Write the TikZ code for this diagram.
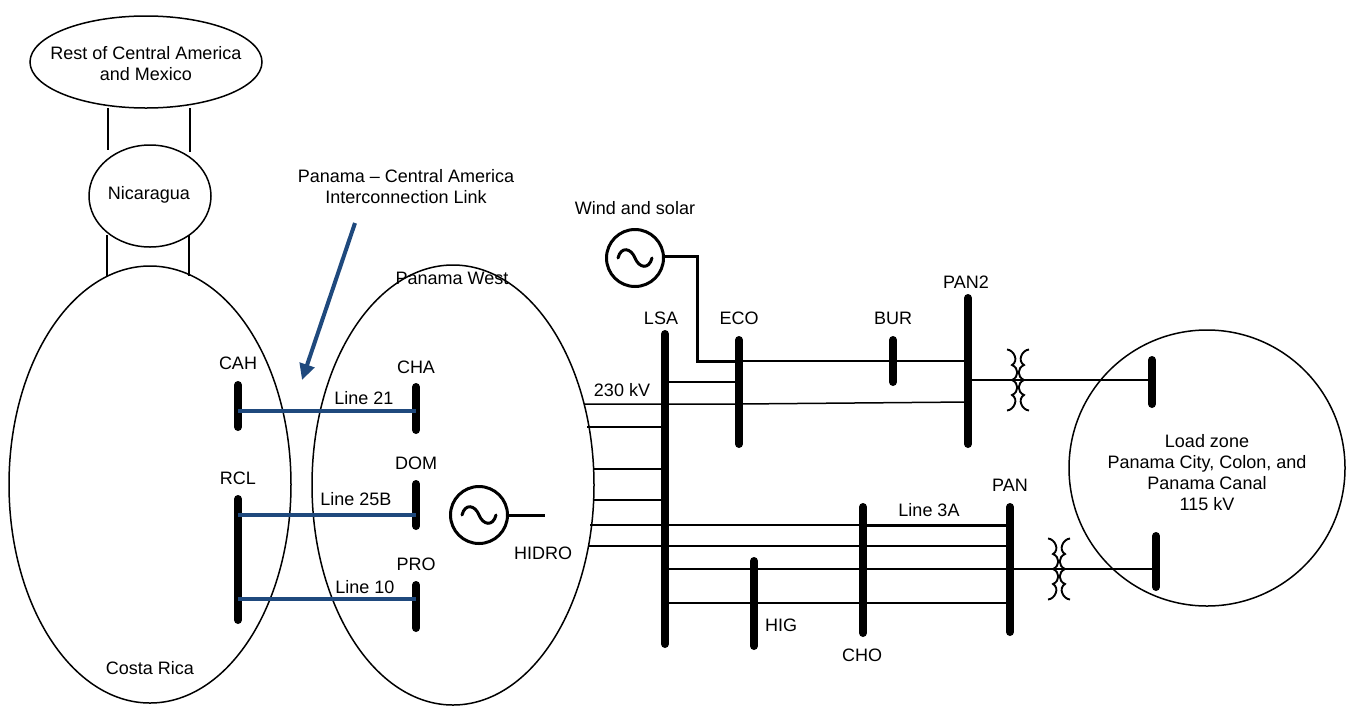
\documentclass[tikz,border=0pt]{standalone}
\usepackage{fontspec}
\setmainfont{Liberation Sans}
\usetikzlibrary{arrows.meta}
\definecolor{linkblue}{HTML}{1F497D}
\tikzset{
  x=1pt,y=-1pt,
  thin line/.style={line width=1.5pt,black},
  thick line/.style={line width=3pt,black},
  bus/.style={line width=8pt,line cap=round},
  link/.style={line width=3.5pt,linkblue},
  lbl/.style={font=\fontsize{18}{21}\selectfont,align=center,inner sep=0pt},
  gen/.style={draw,circle,line width=3pt,minimum size=57pt,inner sep=0pt},
  wave/.style={line width=3pt,line cap=round},
}
\newcommand{\busline}[4]{% name x y1 y2
  \coordinate (#1a) at (#2,#3);
  \coordinate (#1b) at (#2,#4);
  \draw[bus] (#1a) -- (#1b);
}
\newcommand{\coils}[2]{% cx cy : facing windings
  \begin{scope}[shift={(#1,#2)},line width=1.9pt]
    \foreach \sx in {-1,1}{
      \draw[xscale=\sx] (-11,-30.5) .. controls (-4,-30) and (1,-19) .. (-6,-15)
        .. controls (1,-12) and (1,-3) .. (-6,0)
        .. controls (1,3) and (1,12) .. (-6,15)
        .. controls (1,19) and (-4,30) .. (-11,30.5);
    }
  \end{scope}
}
\begin{document}
\begin{tikzpicture}
\useasboundingbox (0,0) rectangle (1348,705);
% areas
\draw[thin line] (146,62) ellipse [x radius=116,y radius=46];
\draw[thin line] (150,196) ellipse [x radius=61,y radius=51];
\draw[thin line] (150,484.5) ellipse [x radius=141,y radius=218.5];
\draw[thin line] (453,485) ellipse [x radius=141,y radius=220];
\draw[thin line] (1207,468) circle [radius=138];
\draw[thin line] (108,108) -- (108,150);
\draw[thin line] (190,108) -- (190,152);
\draw[thin line] (107,235) -- (107,276);
\draw[thin line] (189,235) -- (189,276);
% buses
\busline{cah}{238}{385}{427}
\busline{cha}{416}{387}{430}
\busline{dom}{416}{484}{526}
\busline{pro}{416}{585}{628}
\busline{rcl}{238}{499}{620}
\busline{lsa}{665}{334}{644}
\busline{eco}{739}{340}{444}
\busline{bur}{893}{340}{382}
\busline{pantwo}{968}{298}{444}
\busline{pan}{1010}{507}{632}
\busline{cho}{863}{507}{633}
\busline{hig}{754}{561}{646}
\busline{la}{1152}{360}{404}
\busline{lb}{1156}{536}{587}
% generators
\node[gen] (wind) at (635,258) {};
\node[gen] (hidro) at (479,515) {};
\draw[wave] (618,258) .. controls (621,246) and (631,248) .. (635,258) .. controls (639,268) and (649,270) .. (652,258);
\draw[wave] (462,515) .. controls (465,503) and (475,505) .. (479,515) .. controls (483,525) and (493,527) .. (496,515);
\coordinate (hidroend) at (545,515);
\draw[thick line] (hidro.east) -- (hidroend);
\coordinate (windc) at (697,256);
\coordinate (windd) at (697,361);
\draw[thick line] (wind.east |- windc) -- (windc) -- (windd) -- (ecoa |- windd);
% blue links
\draw[link] (caha |- 0,411) -- (chaa |- 0,411);
\draw[link] (rcla |- 0,515) -- (doma |- 0,515);
\draw[link] (rcla |- 0,599) -- (proa |- 0,599);
\coordinate (arrs) at (355,223);
\coordinate (arre) at (302,380);
\draw[line width=4pt,linkblue,-{Triangle[length=16pt,width=15pt]}] (arrs) -- (arre);
% ends on the Panama West boundary
\coordinate (w404) at (584,404);
\coordinate (w427) at (587,427);
\coordinate (w469) at (593,469);
\coordinate (w500) at (593,500);
\coordinate (w525) at (590,525);
\coordinate (w546) at (588,546);
% network lines
\draw[thin line] (ecoa |- 0,361) -- (pantwoa |- 0,361);
\draw[thin line] (lsaa |- 0,382) -- (ecoa |- 0,382);
\draw[thin line] (w404) -- (ecoa |- 0,404) -- (pantwoa |- 0,402);
\draw[thin line] (w427) -- (lsaa |- w427);
\draw[thin line] (w469) -- (lsaa |- w469);
\draw[thin line] (w500) -- (lsaa |- w500);
\draw[thin line] (w525) -- (choa |- w525);
\draw[thick line] (choa |- w525) -- (pana |- w525);
\draw[thin line] (w546) -- (pana |- w546);
\draw[thin line] (lsaa |- 0,569) -- (pana |- 0,569);
\draw[thin line] (lsaa |- 0,603) -- (pana |- 0,603);
\draw[thin line] (pantwoa |- 0,380) -- (laa |- 0,380);
\draw[thin line] (pana |- 0,569) -- (lba |- 0,569);
\coils{1018}{380}
\coils{1059}{569}
% labels
\node[lbl] (l1) at (146,64) {Rest of Central America\\and Mexico};
\node[lbl] (l2) at (149,195) {Nicaragua};
\node[lbl] (l3) at (406,187) {Panama – Central America\\Interconnection Link};
\node[lbl] (l4) at (635,208) {Wind and solar};
\node[lbl] (l5) at (452,278) {Panama West};
\node[lbl] (l6) at (966,282) {PAN2};
\node[lbl] (l7) at (661,318) {LSA};
\node[lbl] (l8) at (739,318) {ECO};
\node[lbl] (l9) at (893,318) {BUR};
\node[lbl] (l10) at (238,363) {CAH};
\node[lbl] (l11) at (416,367) {CHA};
\node[lbl] (l12) at (364,398) {Line 21};
\node[lbl] (l13) at (622,390) {230 kV};
\node[lbl] (l14) at (416,463) {DOM};
\node[lbl] (l15) at (238,478) {RCL};
\node[lbl] (l16) at (356,499) {Line 25B};
\node[lbl] (l17) at (416,564) {PRO};
\node[lbl] (l18) at (365,587) {Line 10};
\node[lbl] (l19) at (543,553) {HIDRO};
\node[lbl] (l20) at (150,668) {Costa Rica};
\node[lbl] (l21) at (781,625) {HIG};
\node[lbl] (l22) at (862,655) {CHO};
\node[lbl] (l23) at (929,510) {Line 3A};
\node[lbl] (l24) at (1010,485) {PAN};
\node[lbl] (l25) at (1207,473) {Load zone\\Panama City, Colon, and\\Panama Canal\\115 kV};
\end{tikzpicture}
\end{document}
